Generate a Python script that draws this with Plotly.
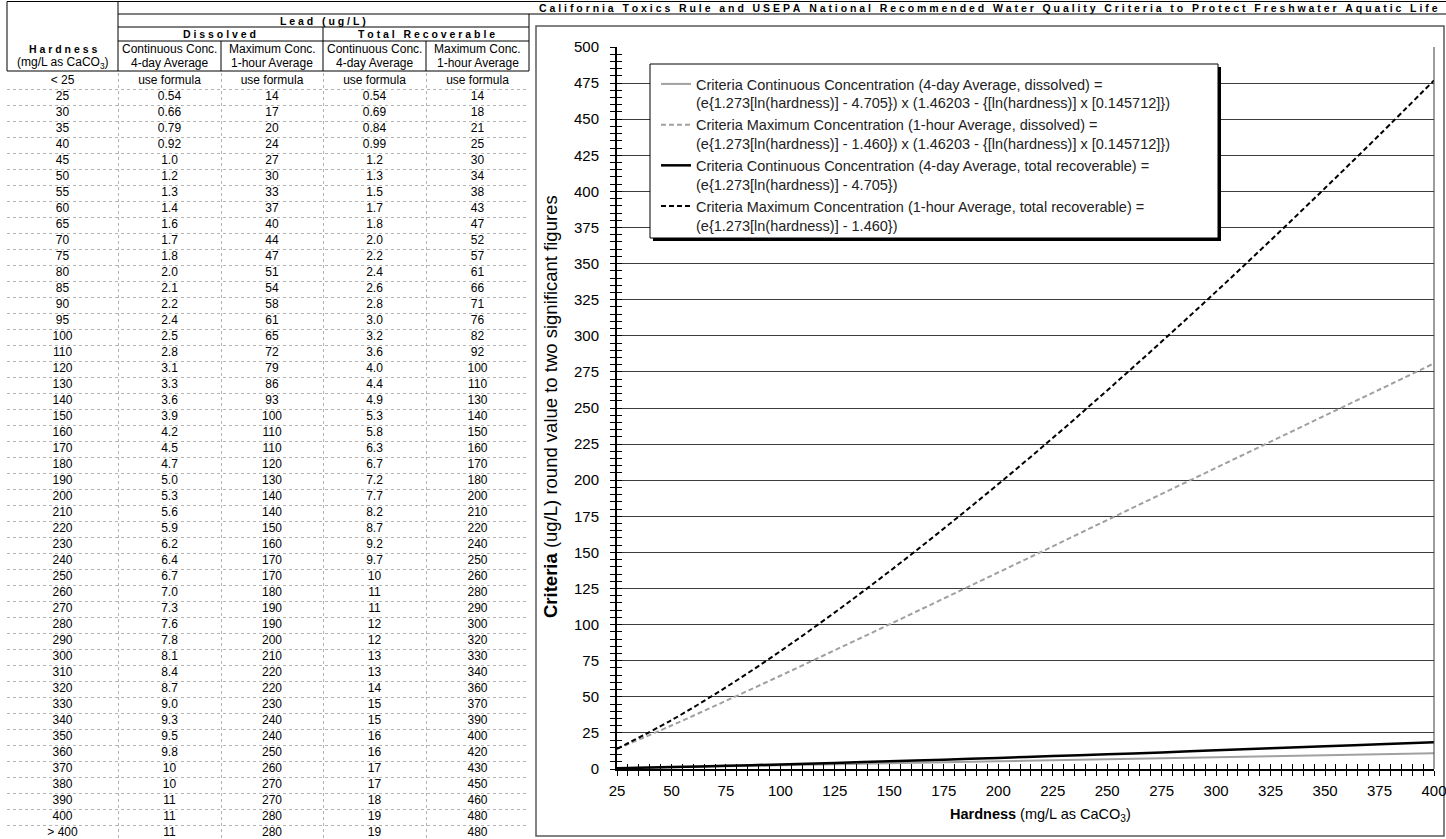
import plotly.graph_objects as go

W, H = 1446, 839
FONT = "Liberation Sans, Arial, sans-serif"

# ---- table data (as printed) ----
hardness_rows = ["< 25"] + [str(v) for v in range(25, 101, 5)] + [str(v) for v in range(110, 401, 10)] + ["> 400"]
diss_ccc = ["use formula", "0.54", "0.66", "0.79", "0.92", "1.0", "1.2", "1.3", "1.4", "1.6", "1.7", "1.8", "2.0",
            "2.1", "2.2", "2.4", "2.5", "2.8", "3.1", "3.3", "3.6", "3.9", "4.2", "4.5", "4.7", "5.0", "5.3", "5.6",
            "5.9", "6.2", "6.4", "6.7", "7.0", "7.3", "7.6", "7.8", "8.1", "8.4", "8.7", "9.0", "9.3", "9.5", "9.8",
            "10", "10", "11", "11", "11"]
diss_cmc = ["use formula", "14", "17", "20", "24", "27", "30", "33", "37", "40", "44", "47", "51", "54", "58", "61",
            "65", "72", "79", "86", "93", "100", "110", "110", "120", "130", "140", "140", "150", "160", "170", "170",
            "180", "190", "190", "200", "210", "220", "220", "230", "240", "240", "250", "260", "270", "270", "280",
            "280"]
tot_ccc = ["use formula", "0.54", "0.69", "0.84", "0.99", "1.2", "1.3", "1.5", "1.7", "1.8", "2.0", "2.2", "2.4",
           "2.6", "2.8", "3.0", "3.2", "3.6", "4.0", "4.4", "4.9", "5.3", "5.8", "6.3", "6.7", "7.2", "7.7", "8.2",
           "8.7", "9.2", "9.7", "10", "11", "11", "12", "12", "13", "13", "14", "15", "15", "16", "16", "17", "17",
           "18", "19", "19"]
tot_cmc = ["use formula", "14", "18", "21", "25", "30", "34", "38", "43", "47", "52", "57", "61", "66", "71", "76",
           "82", "92", "100", "110", "130", "140", "150", "160", "170", "180", "200", "210", "220", "240", "250",
           "260", "280", "290", "300", "320", "330", "340", "360", "370", "390", "400", "420", "430", "450", "460",
           "480", "480"]
col_top = ["Continuous Conc.", "Maximum Conc.", "Continuous Conc.", "Maximum Conc."]
col_bottom = ["4-day Average", "1-hour Average", "4-day Average", "1-hour Average"]

# ---- curve values ----
curve_x = [25, 50, 75, 100, 125, 150, 175, 200, 225, 250, 275, 300, 325, 350, 375, 400]
curve_diss_ccc = [0.54, 1.18, 1.84, 2.52, 3.21, 3.90, 4.60, 5.31, 6.01, 6.72, 7.43, 8.13, 8.84, 9.54, 10.2, 10.9]
curve_diss_cmc = [13.9, 30.1, 47.2, 64.6, 82.3, 100.1, 118.1, 136.1, 154.2, 172.4, 190.5, 208.6, 226.7, 244.8,
                  262.8, 280.9]
curve_tot_ccc = [0.55, 1.32, 2.21, 3.18, 4.23, 5.33, 6.49, 7.69, 8.93, 10.2, 11.5, 12.9, 14.3, 15.7, 17.1, 18.6]
curve_tot_cmc = [14.0, 33.8, 56.6, 81.6, 108.5, 136.8, 166.5, 197.3, 229.2, 262.2, 296.0, 330.6, 366.1, 402.3,
                 439.2, 476.9]

legend_names = [
    "Criteria Continuous Concentration (4-day Average, dissolved) =<br>"
    "(e{1.273[ln(hardness)] - 4.705}) x (1.46203 - {[ln(hardness)] x [0.145712]})",
    "Criteria Maximum Concentration (1-hour Average, dissolved) =<br>"
    "(e{1.273[ln(hardness)] - 1.460}) x (1.46203 - {[ln(hardness)] x [0.145712]})",
    "Criteria Continuous Concentration (4-day Average, total recoverable) =<br>"
    "(e{1.273[ln(hardness)] - 4.705})",
    "Criteria Maximum Concentration (1-hour Average, total recoverable) =<br>"
    "(e{1.273[ln(hardness)] - 1.460})",
]


def px(x):
    return x / W


def py(y):
    return 1 - y / H


def spaced(s):
    return "\u00a0\u00a0\u00a0".join("\u00a0".join(w) for w in s.split(" "))


# table column edges in pixels (layout, not data)
col_edges = [7, 118, 221, 323, 426, 529]
col_mid = [(a + b) / 2 for a, b in zip(col_edges[:-1], col_edges[1:])]
body_top = 73
row_h = 16

fig = go.Figure()

# table body: one text trace per column
rows = list(range(len(hardness_rows)))
for cx, col in zip(col_mid, [hardness_rows, diss_ccc, diss_cmc, tot_ccc, tot_cmc]):
    fig.add_trace(go.Scatter(x=[cx] * len(col), y=rows, text=col, mode="text", xaxis="x3", yaxis="y3",
                             textfont=dict(family=FONT, size=12, color="black"), showlegend=False,
                             hoverinfo="skip", cliponaxis=False))

styles = [
    dict(color="#a0a0a0", width=2),
    dict(color="#a0a0a0", width=2, dash="5px,3px"),
    dict(color="black", width=2.5),
    dict(color="black", width=2, dash="5px,3px"),
]
for i, (name, ys, st) in enumerate(zip(legend_names,
                                       [curve_diss_ccc, curve_diss_cmc, curve_tot_ccc, curve_tot_cmc], styles)):
    fig.add_trace(go.Scatter(x=curve_x, y=ys, mode="lines", name=name, line=st, line_shape="spline",
                             legendgroup=f"g{i}", hoverinfo="skip"))

# overlay axes give the crossing tick marks
fig.add_trace(go.Scatter(x=[None], y=[None], xaxis="x2", yaxis="y2", showlegend=False, hoverinfo="skip"))

x_dom = [px(617), px(1434)]
y_dom = [py(769), py(47)]
tickfont = dict(family=FONT, size=15, color="black")
n_units = (H - body_top) / row_h
fig.update_layout(
    width=W, height=H, margin=dict(l=0, r=0, t=0, b=0, autoexpand=False),
    paper_bgcolor="white", plot_bgcolor="white",
    font=dict(family=FONT, color="black"),
    xaxis=dict(domain=x_dom, range=[25, 400], dtick=25, tick0=25, showgrid=False, zeroline=False,
               showline=True, linecolor="black", linewidth=2, ticks="outside", ticklen=5, tickwidth=1,
               tickcolor="black", minor=dict(dtick=5, ticks="outside", ticklen=5, tickcolor="black"),
               tickfont=tickfont, automargin=False, ticklabelstandoff=2, ticklabeloverflow="allow"),
    yaxis=dict(domain=y_dom, range=[0, 500], dtick=25, showgrid=True, gridcolor="#3c3c3c", gridwidth=1,
               zeroline=False, showline=True, linecolor="black", linewidth=2, ticks="outside", ticklen=5,
               tickwidth=1, tickcolor="black", minor=dict(dtick=5, ticks="outside", ticklen=5, tickcolor="black"),
               tickfont=tickfont, automargin=False, ticklabelstandoff=8),
    xaxis2=dict(domain=x_dom, overlaying="x", anchor="y2", range=[25, 400], dtick=25, tick0=25,
                showgrid=False, zeroline=False, showticklabels=False, ticks="inside", ticklen=5,
                tickcolor="black", minor=dict(dtick=5, ticks="inside", ticklen=5, tickcolor="black"),
                automargin=False),
    yaxis2=dict(domain=y_dom, overlaying="y", anchor="x2", range=[0, 500], dtick=25, showgrid=False,
                zeroline=False, showticklabels=False, ticks="inside", ticklen=5, tickcolor="black",
                minor=dict(dtick=5, ticks="inside", ticklen=5, tickcolor="black"), automargin=False),
    xaxis3=dict(domain=[px(col_edges[0]), px(col_edges[-1])], anchor="y3",
                range=[col_edges[0], col_edges[-1]], tickmode="array", tickvals=col_edges,
                showgrid=True, gridcolor="#b4b4b4", griddash="dot", gridwidth=1, showticklabels=False,
                ticks="", zeroline=False, showline=False, automargin=False, fixedrange=True),
    yaxis3=dict(domain=[0, py(body_top)], anchor="x3", range=[n_units - 0.5, -0.5], tickmode="array",
                tickvals=[r - 0.5 for r in rows] + [rows[-1] + 0.5], showgrid=True, gridcolor="#b4b4b4",
                griddash="dot", gridwidth=1, showticklabels=False, ticks="", zeroline=False, showline=False,
                automargin=False, fixedrange=True),
    legend=dict(x=px(656), y=py(68), xanchor="left", yanchor="top", bgcolor="rgba(0,0,0,0)",
                borderwidth=0, font=dict(family=FONT, size=14.5, color="#222"), valign="top",
                tracegroupgap=0, itemwidth=30),
    showlegend=True,
)

shapes = []


def hline(y, x0, x1, color="black", width=1):
    shapes.append(dict(type="line", xref="paper", yref="paper", x0=px(x0), x1=px(x1), y0=py(y), y1=py(y),
                       line=dict(color=color, width=width)))


def vline(x, y0, y1, color="black", width=1):
    shapes.append(dict(type="line", xref="paper", yref="paper", x0=px(x), x1=px(x), y0=py(y0), y1=py(y1),
                       line=dict(color=color, width=width)))


# table header grid
hline(1.5, 7, 1446)
hline(14, 118, 1446)
hline(27, 118, 529)
hline(41, 118, 529)
hline(71, 7, 529)
vline(7, 1.5, 71)
vline(118, 1.5, 71)
vline(323, 27, 71)
vline(529, 14, 71)
vline(221, 41, 71)
vline(426, 41, 71)

# chart frame
shapes.append(dict(type="rect", xref="paper", yref="paper", x0=px(536), x1=px(1444), y0=py(836), y1=py(26),
                   line=dict(color="#5a5a5a", width=1.5), layer="below"))
# right edge of plot area
shapes.append(dict(type="line", xref="x domain", yref="y domain", x0=1, x1=1, y0=0, y1=1,
                   line=dict(color="#3c3c3c", width=1)))
# legend box with shadow
shapes.append(dict(type="rect", xref="paper", yref="paper", x0=px(653), x1=px(1221), y0=py(241), y1=py(67),
                   fillcolor="black", line=dict(width=0), layer="above"))
shapes.append(dict(type="rect", xref="paper", yref="paper", x0=px(650), x1=px(1218), y0=py(238), y1=py(64),
                   fillcolor="white", line=dict(color="black", width=1), layer="above"))
fig.update_layout(shapes=shapes)

hdr_bold = dict(family=FONT, size=10.5, color="black")
hdr_font = dict(family=FONT, size=12, color="black")
notes = [
    ("<b>" + spaced("California Toxics Rule and USEPA National Recommended Water Quality Criteria to Protect "
                    "Freshwater Aquatic Life") + "</b>", 988, 8, hdr_bold),
    ("<b>" + spaced("Lead (ug/L)") + "</b>", 323, 20.5, hdr_bold),
    ("<b>" + spaced("Dissolved") + "</b>", 220, 34, hdr_bold),
    ("<b>" + spaced("Total Recoverable") + "</b>", 426, 34, hdr_bold),
    ("<b>" + spaced("Hardness") + "</b>", col_mid[0], 49, hdr_bold),
    ("(mg/L as CaCO<sub>3</sub>)", col_mid[0], 63, hdr_font),
]
for cx, a, b in zip(col_mid[1:], col_top, col_bottom):
    notes.append((a, cx, 49, hdr_font))
    notes.append((b, cx, 63, hdr_font))
# axis titles
notes.append(("<b>Hardness</b> (mg/L as CaCO<sub>3</sub>)", 1040, 815,
              dict(family=FONT, size=14.5, color="black")))
for text, x, y, f in notes:
    fig.add_annotation(text=text, x=px(x), y=py(y), xref="paper", yref="paper", showarrow=False,
                       xanchor="center", yanchor="middle", font=f)
fig.add_annotation(text="<b>Criteria</b> (ug/L) round value to two significant figures", textangle=-90,
                   x=px(551), y=py(407), xref="paper", yref="paper", showarrow=False,
                   xanchor="center", yanchor="middle", font=dict(family=FONT, size=18.5, color="black"))

fig.write_html("out.html", config={"displayModeBar": False},
               post_script="document.body.style.margin='0';")
